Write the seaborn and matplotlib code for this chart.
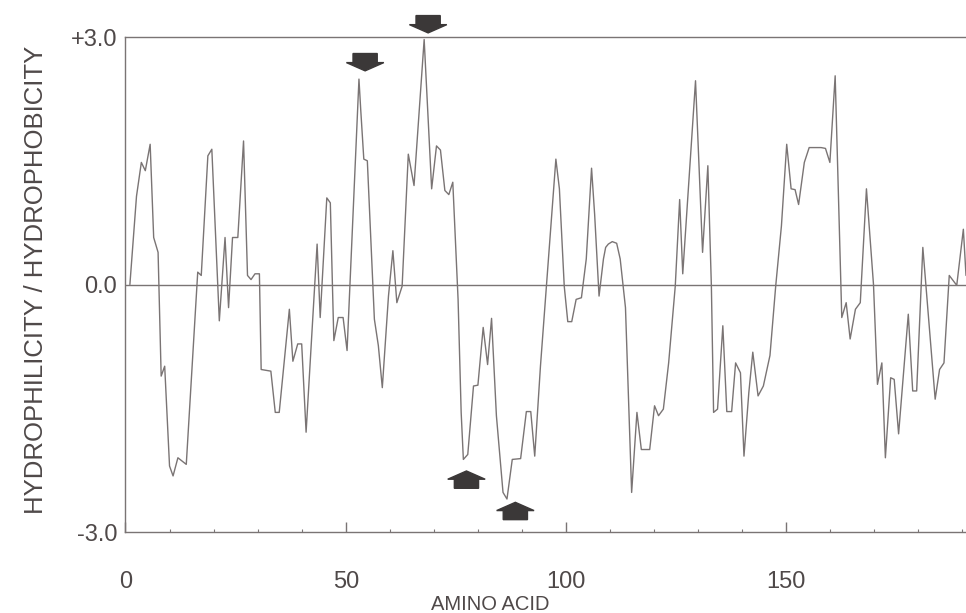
import matplotlib
matplotlib.use("Agg")
import matplotlib.pyplot as plt
from matplotlib.patches import FancyArrow
from matplotlib.ticker import MultipleLocator
import seaborn as sns
import pandas as pd

# residue positions (vertices of the profile) and hydropathy values
residue = [
    1.0, 2.5, 3.6, 4.5, 5.6, 6.4, 7.4, 8.1, 8.9, 10.0, 10.8, 11.9, 13.8, 16.4, 17.2,
    18.7, 19.6, 21.3, 22.6, 23.4, 24.3, 25.5, 26.8, 27.7, 28.5, 29.4, 30.4, 30.8,
    33.0, 34.0, 34.9, 37.2, 38.0, 39.1, 40.0, 41.0, 43.5, 44.2, 45.7, 46.5, 47.3,
    48.3, 49.4, 50.3, 53.0, 53.4, 54.1, 54.9, 56.5, 57.4, 58.3, 59.7, 60.7, 61.6,
    62.8, 64.2, 65.5, 67.8, 69.5, 70.6, 71.5, 72.5, 73.4, 74.3, 75.5, 76.2, 76.7,
    77.7, 79.0, 80.0, 81.2, 82.2, 83.1, 84.2, 85.7, 86.6, 87.8, 89.7, 91.0, 92.0,
    92.9, 94.2, 97.7, 98.5, 99.6, 100.4, 101.3, 102.3, 103.5, 104.6, 105.8, 106.5,
    107.5, 108.5, 109.0, 109.6, 110.5, 111.5, 112.3, 113.5, 114.9, 116.1, 117.1,
    119.0, 120.1, 121.0, 122.1, 123.3, 124.8, 125.8, 126.5, 129.4, 131.0, 132.2,
    133.0, 133.5, 134.4, 135.6, 136.5, 137.6, 138.5, 139.6, 140.4, 141.5, 142.4,
    143.6, 144.8, 146.3, 147.6, 148.9, 150.1, 151.1, 152.0, 152.8, 154.1, 155.2,
    157.9, 158.9, 159.9, 161.1, 162.6, 163.6, 164.5, 165.7, 166.8, 168.2, 169.8,
    170.7, 171.7, 172.5, 173.7, 174.5, 175.5, 177.7, 178.7, 179.6, 181.0, 183.8,
    184.8, 185.8, 187.0, 188.7, 190.2, 190.8,
]
hydropathy = [
    0.00, 1.07, 1.48, 1.38, 1.70, 0.57, 0.39, -1.11, -0.99, -2.20, -2.32, -2.10, -2.18,
    0.15, 0.11, 1.56, 1.64, -0.44, 0.57, -0.28, 0.57, 0.57, 1.74, 0.11, 0.06, 0.13,
    0.13, -1.03, -1.05, -1.55, -1.55, -0.30, -0.93, -0.72, -0.72, -1.79, 0.49, -0.40,
    1.05, 0.99, -0.68, -0.40, -0.40, -0.80, 2.49, 2.12, 1.52, 1.50, -0.42, -0.74,
    -1.25, -0.14, 0.41, -0.22, -0.02, 1.58, 1.20, 2.97, 1.16, 1.68, 1.63, 1.14, 1.09,
    1.24, -0.18, -1.55, -2.12, -2.06, -1.23, -1.22, -0.52, -0.97, -0.41, -1.59, -2.52,
    -2.60, -2.12, -2.11, -1.54, -1.54, -2.08, -0.99, 1.52, 1.16, -0.02, -0.45, -0.45,
    -0.18, -0.16, 0.31, 1.41, 0.85, -0.14, 0.31, 0.45, 0.49, 0.52, 0.50, 0.31, -0.28,
    -2.52, -1.55, -2.00, -2.00, -1.47, -1.59, -1.51, -0.95, -0.02, 1.03, 0.13, 2.47,
    0.39, 1.44, -0.02, -1.55, -1.51, -0.50, -1.54, -1.54, -0.95, -1.07, -2.08, -1.31,
    -0.82, -1.35, -1.23, -0.86, -0.02, 0.71, 1.70, 1.16, 1.15, 0.97, 1.48, 1.66, 1.66,
    1.65, 1.48, 2.53, -0.40, -0.22, -0.66, -0.30, -0.22, 1.16, 0.00, -1.21, -0.95,
    -2.10, -1.13, -1.15, -1.81, -0.36, -1.29, -1.29, 0.45, -1.39, -1.03, -0.95, 0.11,
    -0.01, 0.67, 0.11,
]

# marked peaks (down arrows) and troughs (up arrows): position, arrow tip value
peak_pos = [54.4, 68.7]
peak_tip = [2.59, 3.05]
trough_pos = [77.4, 88.5]
trough_tip = [-2.26, -2.64]

ink = "#4f4949"
line_col = "#7a7474"
arrow_col = "#3b3838"

sns.set_theme(style="white")
plt.rcParams["font.family"] = ["Liberation Sans", "DejaVu Sans"]

df = pd.DataFrame({"residue": residue, "hydropathy": hydropathy})

fig = plt.figure(figsize=(9.66, 6.13), dpi=100)
ax = fig.add_axes([0.1299, 0.1321, 0.8701, 0.8075])

sns.lineplot(data=df, x="residue", y="hydropathy", ax=ax, color=line_col,
             linewidth=1.0, estimator=None, sort=False)
ax.axhline(0, color=line_col, linewidth=1.0)

ax.set_xlim(0, 190.8)
ax.set_ylim(-3.0, 3.0)

for side in ["left", "bottom", "top"]:
    ax.spines[side].set_color(line_col)
    ax.spines[side].set_linewidth(1.0)
ax.spines["right"].set_visible(False)

ax.xaxis.set_major_locator(MultipleLocator(50))
ax.xaxis.set_minor_locator(MultipleLocator(10))
ax.tick_params(axis="x", which="major", direction="in", length=7, width=1.0,
               color=line_col, labelcolor=ink, labelsize=17, pad=28, bottom=True)
ax.tick_params(axis="x", which="minor", direction="in", length=2.5, width=0.8,
               color=line_col, bottom=True)
ax.set_yticks([-3.0, 0.0, 3.0])
ax.set_yticklabels(["-3.0", "0.0", "+3.0"])
ax.tick_params(axis="y", length=0, labelcolor=ink, labelsize=17, pad=6)

ax.set_xlabel("AMINO ACID", fontsize=14.5, color=ink)
ax.xaxis.set_label_coords(0.434, -0.127)
ax.set_ylabel("HYDROPHILICITY / HYDROPHOBICITY", fontsize=18.5, color=ink)
ax.yaxis.set_label_coords(-0.092, 0.51)

# block arrows marking the antigenic sites
for x, tip in zip(peak_pos, peak_tip):
    ax.add_patch(FancyArrow(x, tip + 0.21, 0, -0.21, width=5.5, head_width=8.5,
                            head_length=0.1, length_includes_head=True,
                            color=arrow_col, clip_on=False))
for x, tip in zip(trough_pos, trough_tip):
    ax.add_patch(FancyArrow(x, tip - 0.21, 0, 0.21, width=5.5, head_width=8.5,
                            head_length=0.1, length_includes_head=True,
                            color=arrow_col, clip_on=False))

fig.savefig("out.png", dpi=100)
